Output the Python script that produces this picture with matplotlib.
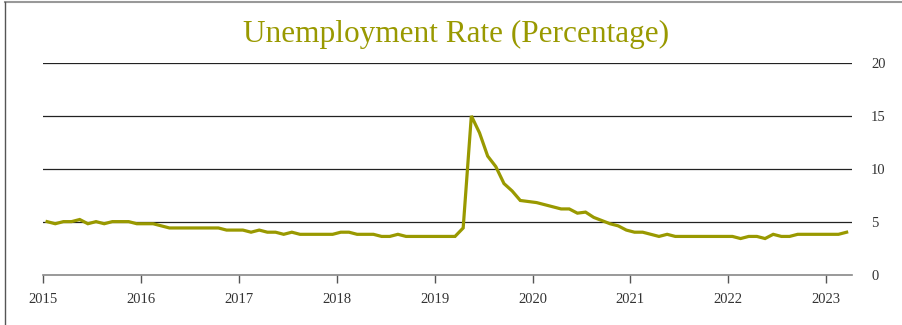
import numpy as np
import matplotlib.pyplot as plt
from matplotlib.lines import Line2D

# monthly unemployment rate, Jan 2015 .. Mar 2023
start_year = 2015
rate = [5.0, 4.8, 5.0, 5.0, 5.2, 4.8, 5.0, 4.8, 5.0, 5.0, 5.0, 4.8,
        4.8, 4.8, 4.6, 4.4, 4.4, 4.4, 4.4, 4.4, 4.4, 4.4, 4.2, 4.2,
        4.2, 4.0, 4.2, 4.0, 4.0, 3.8, 4.0, 3.8, 3.8, 3.8, 3.8, 3.8,
        4.0, 4.0, 3.8, 3.8, 3.8, 3.6, 3.6, 3.8, 3.6, 3.6, 3.6, 3.6,
        3.6, 3.6, 3.6, 4.4, 15.0, 13.4, 11.2, 10.2, 8.6, 7.9, 7.0, 6.9,
        6.8, 6.6, 6.4, 6.2, 6.2, 5.8, 5.9, 5.4, 5.1, 4.8, 4.6, 4.2,
        4.0, 4.0, 3.8, 3.6, 3.8, 3.6, 3.6, 3.6, 3.6, 3.6, 3.6, 3.6,
        3.6, 3.4, 3.6, 3.6, 3.4, 3.8, 3.6, 3.6, 3.8, 3.8, 3.8, 3.8,
        3.8, 3.8, 4.0]
years = list(range(2015, 2024))
yticks = [0, 5, 10, 15, 20]
title = "Unemployment Rate (Percentage)"

olive = '#999900'

x = [start_year + (i + 0.5) / 12 for i in range(len(rate))]

fig = plt.figure(figsize=(9.02, 3.25), dpi=100)
ax = fig.add_axes([43/902, 50.5/325, 808.7/902, 211.5/325])

ax.plot(x, rate, color=olive, lw=2.3, solid_joinstyle='miter', zorder=3)

ax.set_xlim(2015, 2023.26)
ax.set_ylim(0, 20)
ax.set_xticks(years)
ax.set_xticklabels([str(y) for y in years])
ax.set_yticks(yticks)
ax.yaxis.tick_right()
for g in yticks[1:]:
    ax.axhline(g, color='#222222', lw=0.9, zorder=1)

for s in ['top', 'left', 'right']:
    ax.spines[s].set_visible(False)
ax.spines['bottom'].set_color('#888888')
ax.spines['bottom'].set_linewidth(1.2)
ax.tick_params(axis='x', length=6, width=1, color='#555555', pad=7,
               labelsize=10.5, labelcolor='#333333')
ax.tick_params(axis='y', length=0, pad=14, labelsize=10.5, labelcolor='#333333')
for lab in ax.get_xticklabels() + ax.get_yticklabels():
    lab.set_family('Liberation Serif')

fig.text(0.506, 1 - 34/325, title, ha='center', va='center',
         fontsize=22.5, color=olive, family='Liberation Serif')

# frame of the box
fig.add_artist(Line2D([5/902, 1], [1 - 2/325, 1 - 2/325], color='#999999', lw=1.5))
fig.add_artist(Line2D([5/902, 5/902], [0, 1 - 2/325], color='#555555', lw=1))

fig.savefig('out.png', dpi=100)
